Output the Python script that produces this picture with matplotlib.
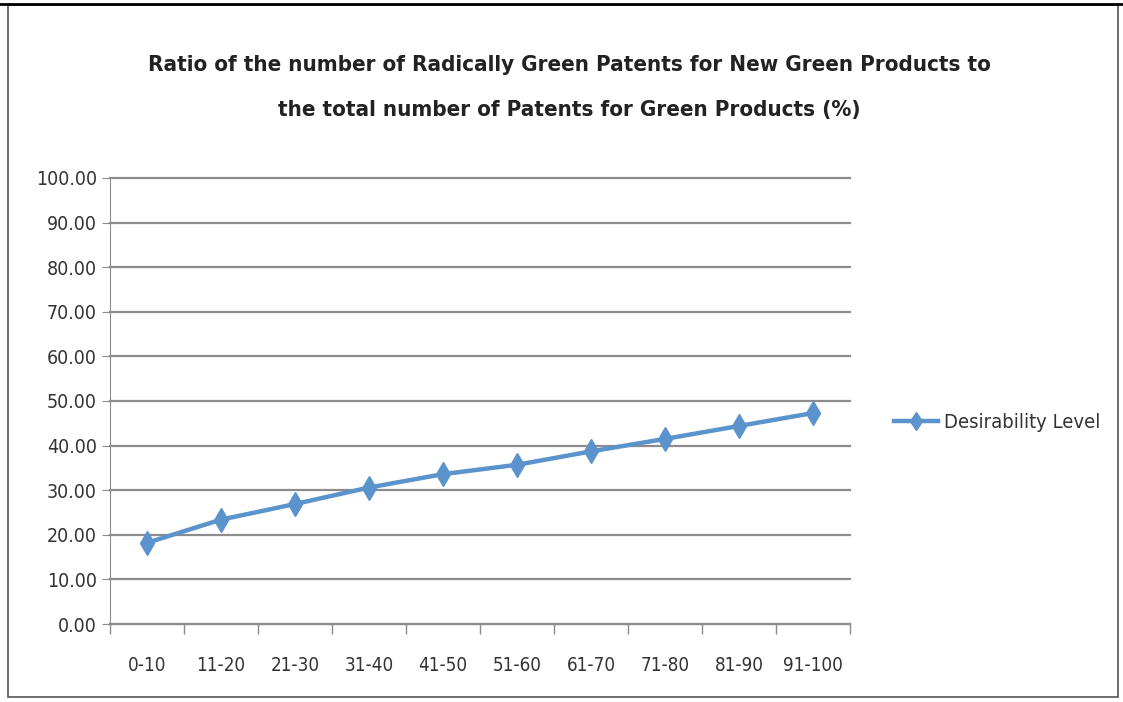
import matplotlib.pyplot as plt
from matplotlib.patches import Rectangle

# data
categories = ['0-10', '11-20', '21-30', '31-40', '41-50',
              '51-60', '61-70', '71-80', '81-90', '91-100']
desirability = [18.2, 23.4, 26.9, 30.6, 33.6, 35.7, 38.7, 41.5, 44.4, 47.3]
yticks = [0, 10, 20, 30, 40, 50, 60, 70, 80, 90, 100]

plt.rcParams['font.family'] = ['DejaVu Sans']
plt.rcParams['font.stretch'] = 'condensed'

fig = plt.figure(figsize=(11.23, 7.02), dpi=100)
ax = fig.add_axes([110 / 1123, 1 - 624 / 702, 740 / 1123, 446 / 702])

x = list(range(len(categories)))
ax.plot(x, desirability, color='#5b93cd', lw=3.2, marker='d',
        markersize=12, label='Desirability Level', zorder=3)

ax.set_xlim(-0.5, len(categories) - 0.5)
ax.set_ylim(0, 100)
ax.set_yticks(yticks)
ax.set_yticklabels(['%.2f' % v for v in yticks])
ax.set_xticks(x)
ax.set_xticklabels(categories)
ax.set_xticks([i - 0.5 for i in range(len(categories) + 1)], minor=True)

ax.grid(axis='y', color='#8c8c8c', lw=1.6)
for gl in ax.get_ygridlines():
    gl.set_clip_on(False)
ax.set_axisbelow(True)
for s in ['top', 'right']:
    ax.spines[s].set_visible(False)
ax.spines['left'].set_color('#8c8c8c')
ax.spines['bottom'].set_color('#8c8c8c')
ax.spines['bottom'].set_linewidth(1.6)
ax.tick_params(axis='x', which='major', length=0, pad=23, labelsize=13.5, colors='#333333')
ax.tick_params(axis='x', which='minor', length=7, color='#8c8c8c', width=1)
ax.tick_params(axis='y', length=6, color='#8c8c8c', labelsize=14, colors='#333333')

fig.text(569 / 1123, 1 - 65 / 702,
         'Ratio of the number of Radically Green Patents for New Green Products to',
         ha='center', va='center', fontsize=16, fontweight='bold', color='#222222')
fig.text(569 / 1123, 1 - 110 / 702,
         'the total number of Patents for Green Products (%)',
         ha='center', va='center', fontsize=16, fontweight='bold', color='#222222')

leg = ax.legend(loc='center left', bbox_to_anchor=(886 / 1123, 1 - 423 / 702),
                bbox_transform=fig.transFigure, frameon=False, fontsize=14.5,
                handlelength=2.2, handletextpad=0.3, borderaxespad=0,
                markerscale=0.8)
for t in leg.get_texts():
    t.set_color('#333333')

# outer frame of the screenshot
fig.patches.append(Rectangle((8 / 1123, 5 / 702), 1110 / 1123, 692 / 702,
                             transform=fig.transFigure, fill=False,
                             edgecolor='#555555', lw=1.2))
fig.add_artist(plt.Line2D([0, 1], [1 - 4 / 702, 1 - 4 / 702],
                          transform=fig.transFigure, color='black', lw=2))

fig.savefig('out.png', dpi=100)
